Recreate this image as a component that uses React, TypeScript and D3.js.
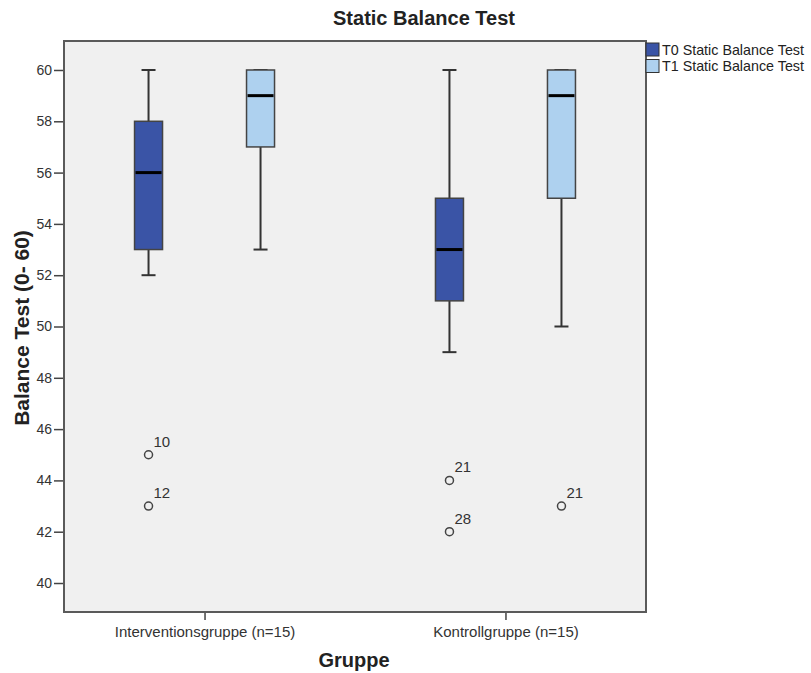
import React, { useEffect, useRef } from "react";
import * as d3 from "d3";

// box plot data
const groups = ["Interventionsgruppe (n=15)", "Kontrollgruppe (n=15)"];
const seriesNames = ["T0 Static Balance Test", "T1 Static Balance Test"];

const t0Low = [52, 49];
const t0Q1 = [53, 51];
const t0Median = [56, 53];
const t0Q3 = [58, 55];
const t0High = [60, 60];

const t1Low = [53, 50];
const t1Q1 = [57, 55];
const t1Median = [59, 59];
const t1Q3 = [60, 60];
const t1High = [60, 60];

const outlierGroup = [0, 0, 1, 1, 1];
const outlierSeries = [0, 0, 0, 0, 1];
const outlierValue = [45, 43, 44, 42, 43];
const outlierLabel = ["10", "12", "21", "28", "21"];

const yTicks = [40, 42, 44, 46, 48, 50, 52, 54, 56, 58, 60];

export default function App() {
  const svgRef = useRef<SVGSVGElement>(null);

  useEffect(() => {
    const W = 811;
    const H = 673;
    const left = 64;
    const right = 646;
    const top = 41;
    const bottom = 612;
    const font = "'Liberation Sans', Arial, sans-serif";
    const colors = ["#3a54a6", "#aed1ef"];

    const svg = d3.select(svgRef.current).attr("width", W).attr("height", H);
    svg.selectAll("*").remove();

    const x = d3.scalePoint<string>().domain(groups).range([left, right]).padding(0.467);
    const xs = d3.scalePoint<string>().domain(seriesNames).range([-56, 56]);
    const y = d3.scaleLinear().domain([38.87, 61.13]).range([bottom, top]);

    // plot area
    svg
      .append("rect")
      .attr("x", left)
      .attr("y", top)
      .attr("width", right - left)
      .attr("height", bottom - top)
      .attr("fill", "#f0f0f0")
      .attr("stroke", "#5a5a5a")
      .attr("stroke-width", 2);

    const yAxis = svg
      .append("g")
      .attr("transform", `translate(${left - 1},0)`)
      .call(d3.axisLeft(y).tickValues(yTicks).tickSize(9).tickPadding(2));
    yAxis.select(".domain").remove();
    yAxis.selectAll("line").attr("stroke", "#444").attr("stroke-width", 1.5);
    yAxis
      .selectAll("text")
      .attr("fill", "#333")
      .attr("font-size", "14px")
      .attr("font-family", font);

    const xAxis = svg
      .append("g")
      .attr("transform", `translate(0,${bottom + 1})`)
      .call(d3.axisBottom(x).tickSize(7).tickPadding(6));
    xAxis.select(".domain").remove();
    xAxis.selectAll("line").attr("stroke", "#444").attr("stroke-width", 1.5);
    xAxis
      .selectAll("text")
      .attr("fill", "#333")
      .attr("font-size", "15px")
      .attr("font-family", font);

    const boxW = 28;
    const capW = 14;
    const stats = [
      [t0Low, t0Q1, t0Median, t0Q3, t0High],
      [t1Low, t1Q1, t1Median, t1Q3, t1High],
    ];

    seriesNames.forEach((s, si) => {
      const [low, q1, med, q3, high] = stats[si];
      groups.forEach((g, gi) => {
        const cx = (x(g) as number) + (xs(s) as number);
        const b = svg.append("g");
        // whiskers
        b.append("line")
          .attr("x1", cx).attr("x2", cx)
          .attr("y1", y(high[gi])).attr("y2", y(q3[gi]))
          .attr("stroke", "#333").attr("stroke-width", 2);
        b.append("line")
          .attr("x1", cx).attr("x2", cx)
          .attr("y1", y(q1[gi])).attr("y2", y(low[gi]))
          .attr("stroke", "#333").attr("stroke-width", 2);
        [high[gi], low[gi]].forEach((v) => {
          b.append("line")
            .attr("x1", cx - capW / 2).attr("x2", cx + capW / 2)
            .attr("y1", y(v)).attr("y2", y(v))
            .attr("stroke", "#333").attr("stroke-width", 2);
        });
        b.append("rect")
          .attr("x", cx - boxW / 2)
          .attr("y", y(q3[gi]))
          .attr("width", boxW)
          .attr("height", y(q1[gi]) - y(q3[gi]))
          .attr("fill", colors[si])
          .attr("stroke", "#444")
          .attr("stroke-width", 1.5);
        b.append("line")
          .attr("x1", cx - boxW / 2 + 1).attr("x2", cx + boxW / 2 - 1)
          .attr("y1", y(med[gi])).attr("y2", y(med[gi]))
          .attr("stroke", "#000").attr("stroke-width", 3);
      });
    });

    // outliers
    outlierValue.forEach((v, i) => {
      const cx = (x(groups[outlierGroup[i]]) as number) + (xs(seriesNames[outlierSeries[i]]) as number);
      svg
        .append("circle")
        .attr("cx", cx)
        .attr("cy", y(v))
        .attr("r", 4)
        .attr("fill", "none")
        .attr("stroke", "#444")
        .attr("stroke-width", 1.5);
      svg
        .append("text")
        .attr("x", cx + 5)
        .attr("y", y(v) - 8)
        .attr("fill", "#333")
        .attr("font-size", "15px")
        .attr("font-family", font)
        .text(outlierLabel[i]);
    });

    // titles
    svg
      .append("text")
      .attr("x", 424)
      .attr("y", 25)
      .attr("text-anchor", "middle")
      .attr("font-size", "20px")
      .attr("font-weight", "bold")
      .attr("font-family", font)
      .attr("fill", "#222")
      .text("Static Balance Test");

    svg
      .append("text")
      .attr("x", 354)
      .attr("y", 667)
      .attr("text-anchor", "middle")
      .attr("font-size", "20px")
      .attr("font-weight", "bold")
      .attr("font-family", font)
      .attr("fill", "#222")
      .text("Gruppe");

    svg
      .append("text")
      .attr("transform", `translate(29,328) rotate(-90)`)
      .attr("text-anchor", "middle")
      .attr("font-size", "21px")
      .attr("font-weight", "bold")
      .attr("font-family", font)
      .attr("fill", "#222")
      .text("Balance Test (0- 60)");

    // legend
    const legend = svg.append("g").attr("transform", `translate(646,43)`);
    seriesNames.forEach((s, i) => {
      legend
        .append("rect")
        .attr("x", 0)
        .attr("y", i * 16.5)
        .attr("width", 13)
        .attr("height", 13)
        .attr("fill", colors[i])
        .attr("stroke", "#333")
        .attr("stroke-width", 1);
      legend
        .append("text")
        .attr("x", 16)
        .attr("y", i * 16.5 + 11.5)
        .attr("fill", "#222")
        .attr("font-size", "14.3px")
        .attr("font-family", font)
        .text(s);
    });
  }, []);

  return (
    <div>
      <svg ref={svgRef} style={{ position: "absolute", left: 0, top: 0 }}></svg>
    </div>
  );
}
